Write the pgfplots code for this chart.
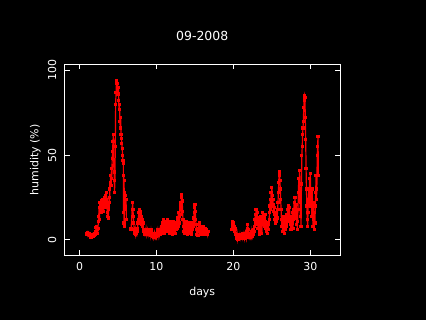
\documentclass[border=0pt]{standalone}
\usepackage{fontspec}
\setmainfont{DejaVu Sans}
\usepackage{pgfplots}
\pgfplotsset{compat=1.18}
\usepackage{pgfplotstable}
\pgfplotstableread[row sep=\\]{
x y\\
0.90 4.0\\ 0.95 3.5\\ 1.00 4.2\\ 1.05 3.0\\ 1.10 3.8\\ 1.15 3.2\\ 1.20 4.0\\ 1.25 2.8\\ 1.30 3.5\\
1.35 2.5\\ 1.40 2.0\\ 1.45 2.8\\ 1.50 1.8\\ 1.55 2.5\\ 1.60 2.2\\ 1.65 3.0\\ 1.70 2.0\\ 1.75 2.6\\ 1.80 3.2\\ 1.85 2.4\\ 1.90 2.8\\ 1.95 3.5\\ 2.00 2.5\\ 2.05 3.0\\
2.10 5\\ 2.15 7.5\\ 2.20 4.5\\ 2.25 8\\ 2.30 6\\ 2.35 4\\ 2.40 7\\
2.45 11\\ 2.50 14\\ 2.55 19\\ 2.60 12\\ 2.65 22\\ 2.70 17\\
2.75 20\\ 2.80 16\\ 2.85 23\\ 2.90 18\\ 2.95 21\\ 3.00 24\\ 3.05 19\\ 3.10 22\\ 3.15 17\\ 3.20 25\\ 3.25 20\\ 3.30 23\\ 3.35 26\\ 3.40 19\\ 3.45 22\\ 3.50 28\\
3.55 24\\ 3.60 16\\ 3.65 14\\ 3.70 20\\ 3.75 13\\ 3.80 18\\ 3.85 25\\ 3.90 22\\ 3.95 30\\ 4.00 34\\
4.05 38\\ 4.10 32\\ 4.15 42\\ 4.20 36\\ 4.25 48\\ 4.30 52\\ 4.35 58\\ 4.40 62\\ 4.45 44\\ 4.50 40\\ 4.55 28\\ 4.60 35\\
4.65 55\\ 4.70 80\\ 4.75 87\\ 4.80 92\\ 4.85 94\\ 4.90 89\\ 4.95 92\\ 5.00 86\\ 5.05 90\\ 5.10 82\\ 5.15 77\\ 5.20 80\\
5.25 70\\ 5.30 66\\ 5.35 72\\ 5.40 62\\ 5.45 60\\ 5.50 57\\ 5.55 54\\ 5.60 50\\ 5.65 47\\ 5.70 45\\ 5.72 16\\ 5.75 38\\ 5.78 10\\ 5.80 35\\ 5.82 8\\ 5.85 28\\ 5.90 22\\
5.95 26\\ 6.00 18\\ 6.05 24\\ 6.10 12\\ 6.12 nan\\
6.65 7\\ 6.70 6.5\\ 6.90 22\\ 6.95 18\\ 7.00 14\\ 7.05 10\\ 7.10 6\\
7.15 5\\ 7.20 4\\ 7.25 6\\ 7.30 3.5\\ 7.35 5\\ 7.40 4\\ 7.45 7\\ 7.50 5\\
7.55 7\\ 7.60 10\\ 7.65 12\\ 7.70 16\\ 7.75 14\\ 7.80 18\\ 7.85 13\\ 7.90 17\\ 7.95 15\\ 8.00 11\\ 8.05 14\\ 8.10 9\\ 8.15 12\\ 8.20 8\\ 8.25 10\\ 8.30 6\\
8.35 5\\ 8.40 4\\ 8.45 6\\ 8.50 3\\ 8.55 5\\ 8.60 4\\ 8.65 6\\ 8.70 3.5\\ 8.75 5\\ 8.80 4\\ 8.85 6\\ 8.90 5\\ 8.95 3\\
9.00 4\\ 9.05 5\\ 9.10 3\\ 9.15 6\\ 9.20 4\\ 9.25 2.5\\ 9.30 5\\ 9.35 3\\ 9.40 6\\ 9.45 4\\ 9.50 2\\ 9.55 3\\ 9.60 1.5\\ 9.65 3\\ 9.70 2\\ 9.75 4\\ 9.80 2.5\\ 9.85 1.5\\ 9.90 3\\ 9.95 2\\ 10.00 4\\ 10.05 2.5\\ 10.10 5\\ 10.15 3\\ 10.20 6\\ 10.25 4\\ 10.30 2.5\\ 10.35 5\\ 10.40 3\\ 10.45 4\\
10.50 6\\ 10.55 3\\ 10.60 5\\ 10.65 8\\ 10.70 4\\ 10.75 7\\ 10.80 10\\ 10.85 5\\ 10.90 12\\ 10.95 7\\ 11.00 4\\ 11.05 9\\ 11.10 11\\ 11.15 6\\ 11.20 8\\ 11.25 5\\ 11.30 10\\ 11.35 7\\ 11.40 12\\ 11.45 8\\ 11.50 5\\ 11.55 9\\ 11.60 11\\ 11.65 6\\ 11.70 8\\ 11.75 4\\ 11.80 10\\ 11.85 7\\ 11.90 11\\ 11.95 5\\ 12.00 9\\ 12.05 3\\ 12.10 7\\ 12.15 10\\ 12.20 6\\ 12.25 11\\ 12.30 8\\ 12.35 5\\ 12.40 9\\ 12.45 4\\ 12.50 7\\ 12.55 10\\ 12.60 6\\
12.65 9\\ 12.70 13\\ 12.75 7\\ 12.80 12\\ 12.85 16\\ 12.90 8\\ 12.95 14\\ 13.00 10\\ 13.05 15\\
13.10 18\\ 13.15 22\\ 13.20 20\\ 13.25 25\\ 13.30 27\\ 13.35 23\\ 13.40 17\\ 13.45 12\\
13.50 8\\ 13.55 5\\ 13.60 10\\ 13.65 6\\ 13.70 4\\ 13.75 9\\ 13.80 7\\ 13.85 11\\ 13.90 5\\ 13.95 8\\ 14.00 3\\ 14.05 9\\ 14.10 6\\ 14.15 10\\ 14.20 5\\ 14.25 8\\ 14.30 4\\ 14.35 7\\ 14.40 10\\ 14.45 6\\ 14.50 8\\ 14.55 3\\ 14.60 5\\ 14.65 9\\ 14.70 6\\ 14.75 8\\
14.80 10\\ 14.85 13\\ 14.90 16\\ 14.95 19\\ 15.00 21\\ 15.05 17\\ 15.10 12\\ 15.15 9\\
15.20 6\\ 15.25 3\\ 15.30 7\\ 15.35 5\\ 15.40 2.5\\ 15.45 6\\ 15.50 9\\ 15.55 5\\ 15.60 10\\ 15.65 7\\ 15.70 4\\ 15.75 8\\ 15.80 3\\ 15.85 6\\ 15.90 4\\ 15.95 7\\ 16.00 3\\ 16.05 5\\ 16.10 8\\ 16.15 4\\ 16.20 6\\ 16.25 3\\ 16.30 5\\ 16.35 7\\ 16.40 4\\ 16.45 6\\ 16.50 3\\ 16.55 5\\ 16.60 4\\ 16.65 3\\ 16.70 5\\ 16.72 nan\\
19.80 6\\ 19.85 11\\ 19.90 8\\ 19.95 10\\ 20.00 7\\ 20.05 9\\ 20.10 5\\ 20.15 8\\ 20.20 6\\ 20.25 4\\ 20.30 7\\ 20.35 3\\
20.40 2\\ 20.45 1\\ 20.50 3\\ 20.55 0.5\\ 20.60 2\\ 20.65 1\\ 20.70 0.5\\ 20.75 2\\ 20.80 1.5\\ 20.85 3\\ 20.90 1\\ 20.95 2\\
21.00 1.5\\ 21.05 3\\ 21.10 2\\ 21.15 1\\ 21.20 2.5\\ 21.25 3.5\\ 21.30 1.5\\ 21.35 2\\ 21.40 3\\ 21.45 1\\ 21.50 2.5\\ 21.55 4\\ 21.60 2\\ 21.65 3\\ 21.70 1.5\\ 21.75 5\\ 21.80 7\\ 21.85 9\\ 21.90 6\\ 21.95 3\\ 22.00 2\\ 22.05 4\\ 22.10 2.5\\ 22.15 1.5\\ 22.20 3\\ 22.25 2\\ 22.30 4\\ 22.35 2.5\\ 22.40 5\\ 22.45 3\\ 22.50 2\\ 22.55 4\\ 22.60 6\\ 22.65 3\\ 22.70 5\\
22.75 8\\ 22.80 12\\ 22.85 15\\ 22.90 10\\ 22.95 18\\ 23.00 14\\ 23.05 9\\ 23.10 16\\ 23.15 12\\ 23.20 7\\ 23.25 13\\ 23.30 10\\ 23.35 5\\
23.40 3\\ 23.45 8\\ 23.50 12\\ 23.55 6\\ 23.60 14\\ 23.65 10\\ 23.70 4\\ 23.75 9\\ 23.80 16\\ 23.85 12\\
23.90 14\\ 23.95 10\\ 24.00 8\\ 24.05 13\\ 24.10 15\\ 24.15 9\\ 24.20 11\\ 24.25 7\\
24.30 5\\ 24.35 8\\ 24.40 4\\ 24.45 7\\ 24.50 10\\ 24.55 6\\ 24.60 9\\ 24.65 12\\
24.70 16\\ 24.75 20\\ 24.80 24\\ 24.85 18\\ 24.90 28\\ 24.95 22\\ 25.00 31\\ 25.05 26\\ 25.10 20\\ 25.15 24\\ 25.20 17\\ 25.25 21\\ 25.30 15\\ 25.35 19\\
25.40 12\\ 25.45 15\\ 25.50 10\\ 25.55 14\\ 25.60 11\\ 25.65 16\\ 25.70 13\\ 25.75 18\\
25.80 22\\ 25.85 28\\ 25.90 34\\ 25.95 38\\ 26.00 40\\ 26.05 35\\ 26.10 30\\ 26.15 24\\ 26.20 18\\ 26.25 12\\
26.30 8\\ 26.35 12\\ 26.40 5\\ 26.45 10\\ 26.50 7\\ 26.55 14\\ 26.60 9\\ 26.65 4\\ 26.70 11\\ 26.75 6\\ 26.80 13\\ 26.85 8\\ 26.90 15\\ 26.95 10\\
27.00 14\\ 27.05 18\\ 27.10 12\\ 27.15 20\\ 27.20 16\\ 27.25 11\\ 27.30 19\\ 27.35 13\\
27.40 9\\ 27.45 14\\ 27.50 6\\ 27.55 12\\ 27.60 8\\ 27.65 16\\ 27.70 10\\ 27.75 7\\
27.80 12\\ 27.85 18\\ 27.90 22\\ 27.95 15\\ 28.00 25\\ 28.05 19\\ 28.10 13\\ 28.15 21\\ 28.20 9\\ 28.25 16\\ 28.30 6\\ 28.35 11\\
28.40 18\\ 28.45 28\\ 28.50 36\\ 28.55 24\\ 28.60 41\\ 28.65 30\\ 28.70 14\\ 28.75 22\\ 28.80 8\\ 28.85 33\\
28.90 50\\ 28.95 55\\ 29.00 62\\ 29.05 66\\ 29.10 70\\ 29.15 78\\ 29.20 82\\ 29.25 85\\ 29.30 84\\
29.35 72\\ 29.40 59\\ 29.45 42\\ 29.50 30\\ 29.55 20\\ 29.60 12\\ 29.65 8\\ 29.70 16\\
29.75 24\\ 29.80 30\\ 29.85 26\\ 29.90 36\\ 29.95 22\\ 30.00 39\\ 30.05 28\\ 30.10 20\\
30.15 26\\ 30.20 14\\ 30.25 30\\ 30.30 18\\ 30.35 8\\ 30.40 22\\ 30.45 12\\ 30.50 6\\ 30.55 16\\
30.60 10\\ 30.65 20\\ 30.70 28\\ 30.75 38\\ 30.80 24\\ 30.85 30\\ 30.90 50\\ 30.95 55\\ 31.00 61\\ 31.05 38\\
}\humidity
\begin{document}
\begin{tikzpicture}
\fill[black] (0,0) rectangle (426bp,320bp);
\begin{axis}[
  at={(64.5bp,65bp)}, anchor=south west,
  scale only axis, width=275.5bp, height=190.5bp,
  xmin=-1.95, xmax=33.86, ymin=-8.85, ymax=103.4,
  xtick={0,10,20,30}, ytick={0,50,100},
  axis line style={white, line width=1bp},
  tick style={white, line width=1bp},
  tick align=inside, major tick length=5bp,
  /pgf/number format/assume math mode=true,
  ticklabel style={font=\fontsize{11}{13}\selectfont, text=white},
  xticklabel style={anchor=base}, xticklabel shift=15.5bp,
  yticklabel style={rotate=90, anchor=base}, yticklabel shift=8.5bp,
  title={09-2008},
  every axis title/.style={font=\fontsize{12.5}{15}\selectfont, text=white, at={(axis description cs:0.5,1.125)}, anchor=base},
  xlabel={days},
  xlabel style={font=\fontsize{11}{13}\selectfont, text=white, at={(axis description cs:0.5,-0.21)}, anchor=base},
  ylabel={humidity (\%)},
  ylabel style={font=\fontsize{11}{13}\selectfont, text=white, at={(axis description cs:-0.0944,0.5)}, anchor=base},
  unbounded coords=jump,
  clip=false,
]
\addplot[red, line width=1.2bp, mark=square*, mark size=1.1bp, mark options={solid, fill=red, draw=red, line width=0pt}] table {\humidity};
\end{axis}
\end{tikzpicture}
\end{document}
